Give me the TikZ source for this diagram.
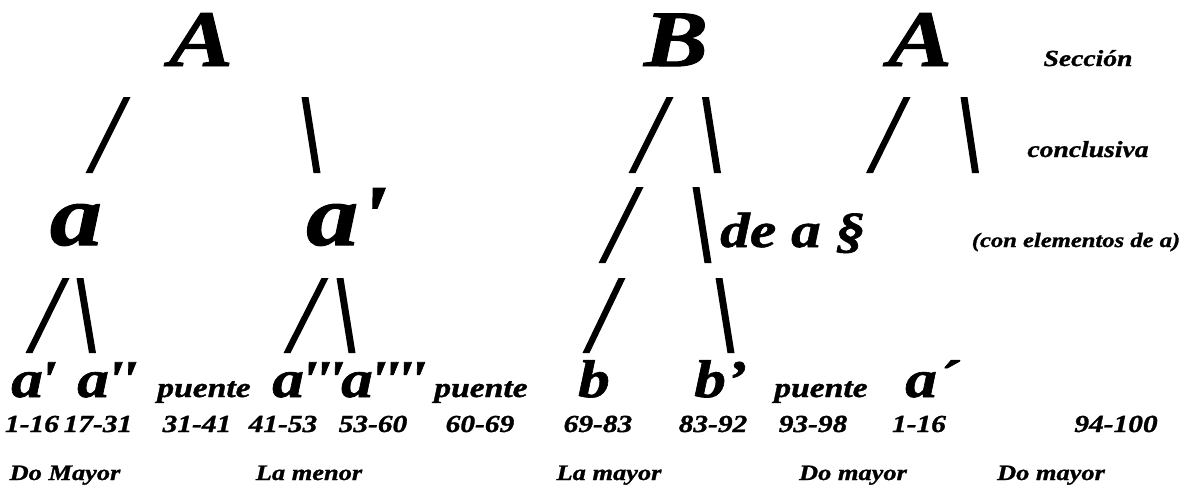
\documentclass[tikz,border=0pt]{standalone}
\usepackage{fontspec}
\newfontfamily\geo{Liberation Serif}[FakeStretch=1.2,FakeBold=1.2]
\newcommand\gf[1]{\geo\bfseries\itshape\fontsize{#1}{#1}\selectfont}
\newcommand\pr[1]{\kern#1pt'}
\newcommand\tstroke[4]{\fill (#1-3.5,#2)--(#1+3.5,#2)--(#3+3.5,#4)--(#3-3.5,#4)--cycle;}
\tikzset{
  txt/.style={inner sep=0pt, anchor=base},
  bigcap/.style={txt, font=\gf{80}},
  mida/.style={txt, font=\gf{87}},
  lowa/.style={txt, font=\gf{53}},
  brg/.style={txt, font=\gf{28}},
  num/.style={txt, font=\gf{24.5}},
  keytxt/.style={txt, font=\gf{22}},
  notetxt/.style={txt, font=\gf{23}},
}
\begin{document}
\begin{tikzpicture}[x=1pt,y=-1pt]
\useasboundingbox[fill=white] (0,0) rectangle (1184,488);
% row 1
\node[bigcap] (A1) at (201,66) {A};
\node[bigcap] (B1) at (676,66) {B};
\node[bigcap] (A2) at (920,66) {A};
\node[notetxt] (sec) at (1088,66) {Sección};
\node[notetxt] (conc) at (1088,157) {conclusiva};
% row 2 strokes
\tstroke{127}{97}{89}{173}
\tstroke{305}{97}{317}{173}
\tstroke{670}{97}{632}{173}
\tstroke{705.5}{97}{717.5}{173}
\tstroke{907}{97}{869.5}{173}
\tstroke{964}{97}{975.5}{173}
% row 3
\node[mida] (a) at (76,245) {a};
\node[mida, anchor=base west] (ap) at (306,245) {a'};
\tstroke{640}{187}{602}{263}
\tstroke{696}{187}{708}{263}
\node[txt, anchor=base west, font=\gf{49.5}] (dea) at (720,247) {de a §};
\node[txt, font=\gf{20.5}] (con) at (1076,247) {(con elementos de a)};
% row 4 strokes
\tstroke{66}{278}{29}{353}
\tstroke{80}{278}{92.5}{353}
\tstroke{325}{278}{287}{353}
\tstroke{340}{278}{352}{353}
\tstroke{622}{278}{586}{353}
\tstroke{719}{278}{731}{353}
% row 5
\node[lowa, anchor=base west] (s1) at (11,397) {a\pr{-4}};
\node[lowa, anchor=base west] (s2) at (77,397) {a\pr{-3}\pr{-4}};
\node[brg] (p1) at (204,397) {puente};
\node[lowa, anchor=base west] (s3) at (272,397) {a\pr{-4}\pr{-4.5}\pr{-4.5}\kern-3pt a\pr{-4}\pr{-4.5}\pr{-4.5}\pr{-4.5}};
\node[brg] (p2) at (481,397) {puente};
\node[lowa] (s4) at (594,397) {b};
\node[lowa, anchor=base west] (s5) at (694,397) {b’};
\node[brg] (p3) at (821,397) {puente};
\node[lowa, anchor=base west] (s6) at (905,397) {a´};
% row 6
\node[num] (n1) at (32,432) {1-16};
\node[num] (n2) at (98,432) {17-31};
\node[num] (n3) at (197,432) {31-41};
\node[num] (n4) at (283,432) {41-53};
\node[num] (n5) at (373,432) {53-60};
\node[num] (n6) at (480,432) {60-69};
\node[num] (n7) at (598,432) {69-83};
\node[num] (n8) at (713,432) {83-92};
\node[num] (n9) at (813,432) {93-98};
\node[num] (n10) at (919,432) {1-16};
\node[num] (n11) at (1116,432) {94-100};
% row 7
\node[keytxt] (k1) at (65,480) {Do Mayor};
\node[keytxt] (k2) at (309,480) {La menor};
\node[keytxt] (k3) at (609,480) {La mayor};
\node[keytxt] (k4) at (853,480) {Do mayor};
\node[keytxt] (k5) at (1051,480) {Do mayor};
\end{tikzpicture}
\end{document}
